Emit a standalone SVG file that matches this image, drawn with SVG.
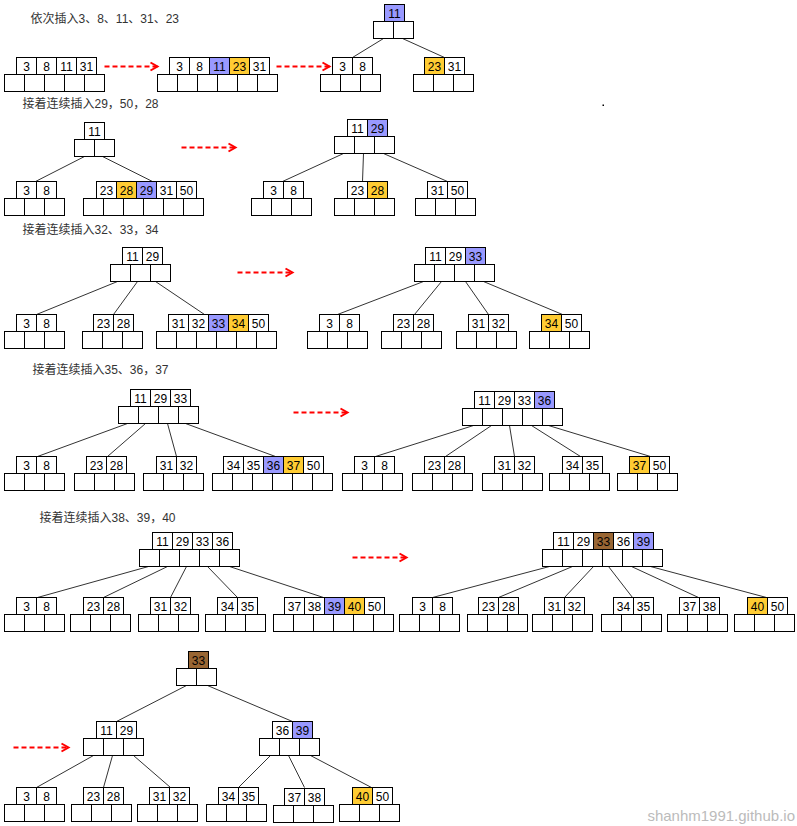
<svg xmlns="http://www.w3.org/2000/svg" xmlns:xlink="http://www.w3.org/1999/xlink" width="797" height="826" viewBox="0 0 797 826">
<style>
use{fill:#fff;stroke:#000;stroke-width:1}
use.b{fill:#9999ff}
use.y{fill:#ffcc33}
use.br{fill:#996633}
text{font-family:"Liberation Sans",Arial,sans-serif;font-size:12px;fill:#000;text-anchor:middle}
text.title{font-family:"Liberation Sans","Noto Sans CJK SC",sans-serif;text-anchor:start;fill:#333}
.ln line{stroke:#333;stroke-width:1}
.ar{stroke:#ff0000;stroke-width:2;stroke-dasharray:5 3;fill:none}
</style>
<defs>
<rect id="c" width="20" height="17"/>
<marker id="ah" markerUnits="userSpaceOnUse" markerWidth="12" markerHeight="12" refX="8" refY="6" orient="auto">
<path d="M1,2 L8,6 L1,10" fill="none" stroke="#ff0000" stroke-width="2"/>
</marker>
</defs>
<rect width="797" height="826" fill="#fff"/>
<g transform="translate(0.5,0.5)">
<g id="titles">
<text class="title" x="30" y="22">依次插入3、8、11、31、23</text>
<text class="title" x="22" y="107">接着连续插入29，50，28</text>
<text class="title" x="22" y="233">接着连续插入32、33，34</text>
<text class="title" x="32" y="373">接着连续插入35、36，37</text>
<text class="title" x="39" y="521">接着连续插入38、39，40</text>
</g>
<g id="connectors" class="ln">
<line x1="383" y1="38" x2="352" y2="57"/><line x1="402" y1="38" x2="444" y2="57"/>
<line x1="84" y1="156" x2="35" y2="181"/><line x1="102" y1="156" x2="152" y2="181"/>
<line x1="343" y1="153" x2="282" y2="181"/><line x1="363" y1="153" x2="362" y2="181"/><line x1="383" y1="153" x2="447" y2="181"/>
<line x1="117" y1="281" x2="36" y2="314"/><line x1="137" y1="281" x2="113" y2="314"/><line x1="155" y1="281" x2="204" y2="314"/>
<line x1="423" y1="281" x2="337" y2="314"/><line x1="441" y1="281" x2="414" y2="314"/><line x1="465" y1="281" x2="488" y2="314"/><line x1="483" y1="281" x2="562" y2="314"/>
<line x1="127" y1="423" x2="37" y2="456"/><line x1="145" y1="423" x2="107" y2="456"/><line x1="167" y1="423" x2="176" y2="456"/><line x1="185" y1="423" x2="275" y2="456"/>
<line x1="473" y1="425" x2="375" y2="456"/><line x1="491" y1="425" x2="445" y2="456"/><line x1="509" y1="425" x2="514" y2="456"/><line x1="531" y1="425" x2="580" y2="456"/><line x1="548" y1="425" x2="650" y2="456"/>
<line x1="148" y1="566" x2="37" y2="597"/><line x1="167" y1="566" x2="103" y2="597"/><line x1="186" y1="566" x2="170" y2="597"/><line x1="207" y1="566" x2="237" y2="597"/><line x1="229" y1="566" x2="323" y2="597"/>
<line x1="549" y1="566" x2="432" y2="597"/><line x1="572" y1="566" x2="498" y2="597"/><line x1="593" y1="566" x2="564" y2="597"/><line x1="608" y1="566" x2="632" y2="597"/><line x1="631" y1="566" x2="698" y2="597"/><line x1="650" y1="566" x2="766" y2="597"/>
<line x1="186" y1="685" x2="116" y2="721"/><line x1="207" y1="685" x2="292" y2="721"/>
<line x1="93" y1="755" x2="36" y2="787"/><line x1="112" y1="755" x2="103" y2="787"/><line x1="133" y1="755" x2="170" y2="787"/>
<line x1="270" y1="755" x2="238" y2="787"/><line x1="288" y1="755" x2="304" y2="787"/><line x1="310" y1="755" x2="371" y2="787"/>
<path class="ar" d="M104,66 H157" marker-end="url(#ah)"/>
<path class="ar" d="M276,66 H329" marker-end="url(#ah)"/>
<path class="ar" d="M181,147 H235" marker-end="url(#ah)"/>
<path class="ar" d="M237,272 H292" marker-end="url(#ah)"/>
<path class="ar" d="M293,412 H347" marker-end="url(#ah)"/>
<path class="ar" d="M352,557 H406" marker-end="url(#ah)"/>
<path class="ar" d="M13,747 H68" marker-end="url(#ah)"/>
</g>
<g id="A"><use href="#c" x="16" y="57"/><use href="#c" x="36" y="57"/><use href="#c" x="56" y="57"/><use href="#c" x="76" y="57"/><use href="#c" x="4" y="74"/><use href="#c" x="24" y="74"/><use href="#c" x="44" y="74"/><use href="#c" x="64" y="74"/><use href="#c" x="84" y="74"/><text x="26" y="70">3</text><text x="46" y="70">8</text><text x="66" y="70">11</text><text x="86" y="70">31</text></g>
<g id="B"><use href="#c" x="169" y="57"/><use href="#c" x="189" y="57"/><use href="#c" class="b" x="209" y="57"/><use href="#c" class="y" x="229" y="57"/><use href="#c" x="249" y="57"/><use href="#c" x="157" y="74"/><use href="#c" x="177" y="74"/><use href="#c" x="197" y="74"/><use href="#c" x="217" y="74"/><use href="#c" x="237" y="74"/><use href="#c" x="257" y="74"/><text x="179" y="70">3</text><text x="199" y="70">8</text><text x="219" y="70">11</text><text x="239" y="70">23</text><text x="259" y="70">31</text></g>
<g id="C"><use href="#c" class="b" x="384" y="4"/><use href="#c" x="373" y="21"/><use href="#c" x="393" y="21"/><text x="394" y="17">11</text></g>
<g id="D"><use href="#c" x="332" y="57"/><use href="#c" x="352" y="57"/><use href="#c" x="320" y="74"/><use href="#c" x="340" y="74"/><use href="#c" x="360" y="74"/><text x="342" y="70">3</text><text x="362" y="70">8</text></g>
<g id="E"><use href="#c" class="y" x="424" y="57"/><use href="#c" x="444" y="57"/><use href="#c" x="413" y="74"/><use href="#c" x="433" y="74"/><use href="#c" x="453" y="74"/><text x="434" y="70">23</text><text x="454" y="70">31</text></g>
<rect id="dot" x="602" y="104" width="1.5" height="1.5" fill="#000"/>
<g id="F"><use href="#c" x="84" y="122"/><use href="#c" x="74" y="139"/><use href="#c" x="94" y="139"/><text x="94" y="135">11</text></g>
<g id="G"><use href="#c" x="16" y="181"/><use href="#c" x="36" y="181"/><use href="#c" x="4" y="198"/><use href="#c" x="24" y="198"/><use href="#c" x="44" y="198"/><text x="26" y="194">3</text><text x="46" y="194">8</text></g>
<g id="H"><use href="#c" x="96" y="181"/><use href="#c" class="y" x="116" y="181"/><use href="#c" class="b" x="136" y="181"/><use href="#c" x="156" y="181"/><use href="#c" x="176" y="181"/><use href="#c" x="83" y="198"/><use href="#c" x="103" y="198"/><use href="#c" x="123" y="198"/><use href="#c" x="143" y="198"/><use href="#c" x="163" y="198"/><use href="#c" x="183" y="198"/><text x="106" y="194">23</text><text x="126" y="194">28</text><text x="146" y="194">29</text><text x="166" y="194">31</text><text x="186" y="194">50</text></g>
<g id="I"><use href="#c" x="347" y="119"/><use href="#c" class="b" x="367" y="119"/><use href="#c" x="334" y="136"/><use href="#c" x="354" y="136"/><use href="#c" x="374" y="136"/><text x="357" y="132">11</text><text x="377" y="132">29</text></g>
<g id="J"><use href="#c" x="263" y="181"/><use href="#c" x="283" y="181"/><use href="#c" x="251" y="198"/><use href="#c" x="271" y="198"/><use href="#c" x="291" y="198"/><text x="273" y="194">3</text><text x="293" y="194">8</text></g>
<g id="K"><use href="#c" x="347" y="181"/><use href="#c" class="y" x="367" y="181"/><use href="#c" x="334" y="198"/><use href="#c" x="354" y="198"/><use href="#c" x="374" y="198"/><text x="357" y="194">23</text><text x="377" y="194">28</text></g>
<g id="L"><use href="#c" x="427" y="181"/><use href="#c" x="447" y="181"/><use href="#c" x="415" y="198"/><use href="#c" x="435" y="198"/><use href="#c" x="455" y="198"/><text x="437" y="194">31</text><text x="457" y="194">50</text></g>
<g id="M"><use href="#c" x="122" y="247"/><use href="#c" x="142" y="247"/><use href="#c" x="110" y="264"/><use href="#c" x="130" y="264"/><use href="#c" x="150" y="264"/><text x="132" y="260">11</text><text x="152" y="260">29</text></g>
<g id="N"><use href="#c" x="16" y="314"/><use href="#c" x="36" y="314"/><use href="#c" x="4" y="331"/><use href="#c" x="24" y="331"/><use href="#c" x="44" y="331"/><text x="26" y="327">3</text><text x="46" y="327">8</text></g>
<g id="O"><use href="#c" x="93" y="314"/><use href="#c" x="113" y="314"/><use href="#c" x="82" y="331"/><use href="#c" x="102" y="331"/><use href="#c" x="122" y="331"/><text x="103" y="327">23</text><text x="123" y="327">28</text></g>
<g id="P"><use href="#c" x="168" y="314"/><use href="#c" x="188" y="314"/><use href="#c" class="b" x="208" y="314"/><use href="#c" class="y" x="228" y="314"/><use href="#c" x="248" y="314"/><use href="#c" x="156" y="331"/><use href="#c" x="176" y="331"/><use href="#c" x="196" y="331"/><use href="#c" x="216" y="331"/><use href="#c" x="236" y="331"/><use href="#c" x="256" y="331"/><text x="178" y="327">31</text><text x="198" y="327">32</text><text x="218" y="327">33</text><text x="238" y="327">34</text><text x="258" y="327">50</text></g>
<g id="Q"><use href="#c" x="425" y="247"/><use href="#c" x="445" y="247"/><use href="#c" class="b" x="465" y="247"/><use href="#c" x="414" y="264"/><use href="#c" x="434" y="264"/><use href="#c" x="454" y="264"/><use href="#c" x="474" y="264"/><text x="435" y="260">11</text><text x="455" y="260">29</text><text x="475" y="260">33</text></g>
<g id="R"><use href="#c" x="319" y="314"/><use href="#c" x="339" y="314"/><use href="#c" x="307" y="331"/><use href="#c" x="327" y="331"/><use href="#c" x="347" y="331"/><text x="329" y="327">3</text><text x="349" y="327">8</text></g>
<g id="S"><use href="#c" x="393" y="314"/><use href="#c" x="413" y="314"/><use href="#c" x="381" y="331"/><use href="#c" x="401" y="331"/><use href="#c" x="421" y="331"/><text x="403" y="327">23</text><text x="423" y="327">28</text></g>
<g id="T"><use href="#c" x="468" y="314"/><use href="#c" x="488" y="314"/><use href="#c" x="456" y="331"/><use href="#c" x="476" y="331"/><use href="#c" x="496" y="331"/><text x="478" y="327">31</text><text x="498" y="327">32</text></g>
<g id="U"><use href="#c" class="y" x="541" y="314"/><use href="#c" x="561" y="314"/><use href="#c" x="529" y="331"/><use href="#c" x="549" y="331"/><use href="#c" x="569" y="331"/><text x="551" y="327">34</text><text x="571" y="327">50</text></g>
<g id="V"><use href="#c" x="130" y="389"/><use href="#c" x="150" y="389"/><use href="#c" x="170" y="389"/><use href="#c" x="118" y="406"/><use href="#c" x="138" y="406"/><use href="#c" x="158" y="406"/><use href="#c" x="178" y="406"/><text x="140" y="402">11</text><text x="160" y="402">29</text><text x="180" y="402">33</text></g>
<g id="W"><use href="#c" x="16" y="456"/><use href="#c" x="36" y="456"/><use href="#c" x="4" y="473"/><use href="#c" x="24" y="473"/><use href="#c" x="44" y="473"/><text x="26" y="469">3</text><text x="46" y="469">8</text></g>
<g id="X"><use href="#c" x="86" y="456"/><use href="#c" x="106" y="456"/><use href="#c" x="74" y="473"/><use href="#c" x="94" y="473"/><use href="#c" x="114" y="473"/><text x="96" y="469">23</text><text x="116" y="469">28</text></g>
<g id="Y"><use href="#c" x="156" y="456"/><use href="#c" x="176" y="456"/><use href="#c" x="143" y="473"/><use href="#c" x="163" y="473"/><use href="#c" x="183" y="473"/><text x="166" y="469">31</text><text x="186" y="469">32</text></g>
<g id="Z"><use href="#c" x="223" y="456"/><use href="#c" x="243" y="456"/><use href="#c" class="b" x="263" y="456"/><use href="#c" class="y" x="283" y="456"/><use href="#c" x="303" y="456"/><use href="#c" x="212" y="473"/><use href="#c" x="232" y="473"/><use href="#c" x="252" y="473"/><use href="#c" x="272" y="473"/><use href="#c" x="292" y="473"/><use href="#c" x="312" y="473"/><text x="233" y="469">34</text><text x="253" y="469">35</text><text x="273" y="469">36</text><text x="293" y="469">37</text><text x="313" y="469">50</text></g>
<g id="AA"><use href="#c" x="474" y="391"/><use href="#c" x="494" y="391"/><use href="#c" x="514" y="391"/><use href="#c" class="b" x="534" y="391"/><use href="#c" x="462" y="408"/><use href="#c" x="482" y="408"/><use href="#c" x="502" y="408"/><use href="#c" x="522" y="408"/><use href="#c" x="542" y="408"/><text x="484" y="404">11</text><text x="504" y="404">29</text><text x="524" y="404">33</text><text x="544" y="404">36</text></g>
<g id="AB"><use href="#c" x="354" y="456"/><use href="#c" x="374" y="456"/><use href="#c" x="342" y="473"/><use href="#c" x="362" y="473"/><use href="#c" x="382" y="473"/><text x="364" y="469">3</text><text x="384" y="469">8</text></g>
<g id="AC"><use href="#c" x="424" y="456"/><use href="#c" x="444" y="456"/><use href="#c" x="412" y="473"/><use href="#c" x="432" y="473"/><use href="#c" x="452" y="473"/><text x="434" y="469">23</text><text x="454" y="469">28</text></g>
<g id="AD"><use href="#c" x="494" y="456"/><use href="#c" x="514" y="456"/><use href="#c" x="482" y="473"/><use href="#c" x="502" y="473"/><use href="#c" x="522" y="473"/><text x="504" y="469">31</text><text x="524" y="469">32</text></g>
<g id="AE"><use href="#c" x="562" y="456"/><use href="#c" x="582" y="456"/><use href="#c" x="549" y="473"/><use href="#c" x="569" y="473"/><use href="#c" x="589" y="473"/><text x="572" y="469">34</text><text x="592" y="469">35</text></g>
<g id="AF"><use href="#c" class="y" x="629" y="456"/><use href="#c" x="649" y="456"/><use href="#c" x="617" y="473"/><use href="#c" x="637" y="473"/><use href="#c" x="657" y="473"/><text x="639" y="469">37</text><text x="659" y="469">50</text></g>
<g id="BB"><use href="#c" x="152" y="532"/><use href="#c" x="172" y="532"/><use href="#c" x="192" y="532"/><use href="#c" x="212" y="532"/><use href="#c" x="139" y="549"/><use href="#c" x="159" y="549"/><use href="#c" x="179" y="549"/><use href="#c" x="199" y="549"/><use href="#c" x="219" y="549"/><text x="162" y="545">11</text><text x="182" y="545">29</text><text x="202" y="545">33</text><text x="222" y="545">36</text></g>
<g id="BC"><use href="#c" x="16" y="597"/><use href="#c" x="36" y="597"/><use href="#c" x="4" y="614"/><use href="#c" x="24" y="614"/><use href="#c" x="44" y="614"/><text x="26" y="610">3</text><text x="46" y="610">8</text></g>
<g id="BD"><use href="#c" x="83" y="597"/><use href="#c" x="103" y="597"/><use href="#c" x="70" y="614"/><use href="#c" x="90" y="614"/><use href="#c" x="110" y="614"/><text x="93" y="610">23</text><text x="113" y="610">28</text></g>
<g id="BE"><use href="#c" x="150" y="597"/><use href="#c" x="170" y="597"/><use href="#c" x="138" y="614"/><use href="#c" x="158" y="614"/><use href="#c" x="178" y="614"/><text x="160" y="610">31</text><text x="180" y="610">32</text></g>
<g id="BF"><use href="#c" x="217" y="597"/><use href="#c" x="237" y="597"/><use href="#c" x="205" y="614"/><use href="#c" x="225" y="614"/><use href="#c" x="245" y="614"/><text x="227" y="610">34</text><text x="247" y="610">35</text></g>
<g id="BG"><use href="#c" x="284" y="597"/><use href="#c" x="304" y="597"/><use href="#c" class="b" x="324" y="597"/><use href="#c" class="y" x="344" y="597"/><use href="#c" x="364" y="597"/><use href="#c" x="273" y="614"/><use href="#c" x="293" y="614"/><use href="#c" x="313" y="614"/><use href="#c" x="333" y="614"/><use href="#c" x="353" y="614"/><use href="#c" x="373" y="614"/><text x="294" y="610">37</text><text x="314" y="610">38</text><text x="334" y="610">39</text><text x="354" y="610">40</text><text x="374" y="610">50</text></g>
<g id="CC"><use href="#c" x="553" y="532"/><use href="#c" x="573" y="532"/><use href="#c" class="br" x="593" y="532"/><use href="#c" x="613" y="532"/><use href="#c" class="b" x="633" y="532"/><use href="#c" x="542" y="549"/><use href="#c" x="562" y="549"/><use href="#c" x="582" y="549"/><use href="#c" x="602" y="549"/><use href="#c" x="622" y="549"/><use href="#c" x="642" y="549"/><text x="563" y="545">11</text><text x="583" y="545">29</text><text x="603" y="545">33</text><text x="623" y="545">36</text><text x="643" y="545">39</text></g>
<g id="CD"><use href="#c" x="412" y="597"/><use href="#c" x="432" y="597"/><use href="#c" x="399" y="614"/><use href="#c" x="419" y="614"/><use href="#c" x="439" y="614"/><text x="422" y="610">3</text><text x="442" y="610">8</text></g>
<g id="CE"><use href="#c" x="478" y="597"/><use href="#c" x="498" y="597"/><use href="#c" x="467" y="614"/><use href="#c" x="487" y="614"/><use href="#c" x="507" y="614"/><text x="488" y="610">23</text><text x="508" y="610">28</text></g>
<g id="CF"><use href="#c" x="544" y="597"/><use href="#c" x="564" y="597"/><use href="#c" x="532" y="614"/><use href="#c" x="552" y="614"/><use href="#c" x="572" y="614"/><text x="554" y="610">31</text><text x="574" y="610">32</text></g>
<g id="CG"><use href="#c" x="613" y="597"/><use href="#c" x="633" y="597"/><use href="#c" x="601" y="614"/><use href="#c" x="621" y="614"/><use href="#c" x="641" y="614"/><text x="623" y="610">34</text><text x="643" y="610">35</text></g>
<g id="CH"><use href="#c" x="679" y="597"/><use href="#c" x="699" y="597"/><use href="#c" x="667" y="614"/><use href="#c" x="687" y="614"/><use href="#c" x="707" y="614"/><text x="689" y="610">37</text><text x="709" y="610">38</text></g>
<g id="CI"><use href="#c" class="y" x="747" y="597"/><use href="#c" x="767" y="597"/><use href="#c" x="734" y="614"/><use href="#c" x="754" y="614"/><use href="#c" x="774" y="614"/><text x="757" y="610">40</text><text x="777" y="610">50</text></g>
<g id="DD"><use href="#c" class="br" x="188" y="651"/><use href="#c" x="176" y="668"/><use href="#c" x="196" y="668"/><text x="198" y="664">33</text></g>
<g id="EE"><use href="#c" x="96" y="721"/><use href="#c" x="116" y="721"/><use href="#c" x="83" y="738"/><use href="#c" x="103" y="738"/><use href="#c" x="123" y="738"/><text x="106" y="734">11</text><text x="126" y="734">29</text></g>
<g id="FF"><use href="#c" x="272" y="721"/><use href="#c" class="b" x="292" y="721"/><use href="#c" x="259" y="738"/><use href="#c" x="279" y="738"/><use href="#c" x="299" y="738"/><text x="282" y="734">36</text><text x="302" y="734">39</text></g>
<g id="G1"><use href="#c" x="16" y="787"/><use href="#c" x="36" y="787"/><use href="#c" x="4" y="804"/><use href="#c" x="24" y="804"/><use href="#c" x="44" y="804"/><text x="26" y="800">3</text><text x="46" y="800">8</text></g>
<g id="G2"><use href="#c" x="83" y="787"/><use href="#c" x="103" y="787"/><use href="#c" x="71" y="804"/><use href="#c" x="91" y="804"/><use href="#c" x="111" y="804"/><text x="93" y="800">23</text><text x="113" y="800">28</text></g>
<g id="G3"><use href="#c" x="149" y="787"/><use href="#c" x="169" y="787"/><use href="#c" x="137" y="804"/><use href="#c" x="157" y="804"/><use href="#c" x="177" y="804"/><text x="159" y="800">31</text><text x="179" y="800">32</text></g>
<g id="G4"><use href="#c" x="218" y="787"/><use href="#c" x="238" y="787"/><use href="#c" x="206" y="804"/><use href="#c" x="226" y="804"/><use href="#c" x="246" y="804"/><text x="228" y="800">34</text><text x="248" y="800">35</text></g>
<g id="G5"><use href="#c" x="284" y="788"/><use href="#c" x="304" y="788"/><use href="#c" x="273" y="805"/><use href="#c" x="293" y="805"/><use href="#c" x="313" y="805"/><text x="294" y="801">37</text><text x="314" y="801">38</text></g>
<g id="G6"><use href="#c" class="y" x="352" y="787"/><use href="#c" x="372" y="787"/><use href="#c" x="339" y="804"/><use href="#c" x="359" y="804"/><use href="#c" x="379" y="804"/><text x="362" y="800">40</text><text x="382" y="800">50</text></g>
</g>
<text x="795" y="821" style="font-size:15px;fill:#bbbbbb;text-anchor:end">shanhm1991.github.io</text>
</svg>
